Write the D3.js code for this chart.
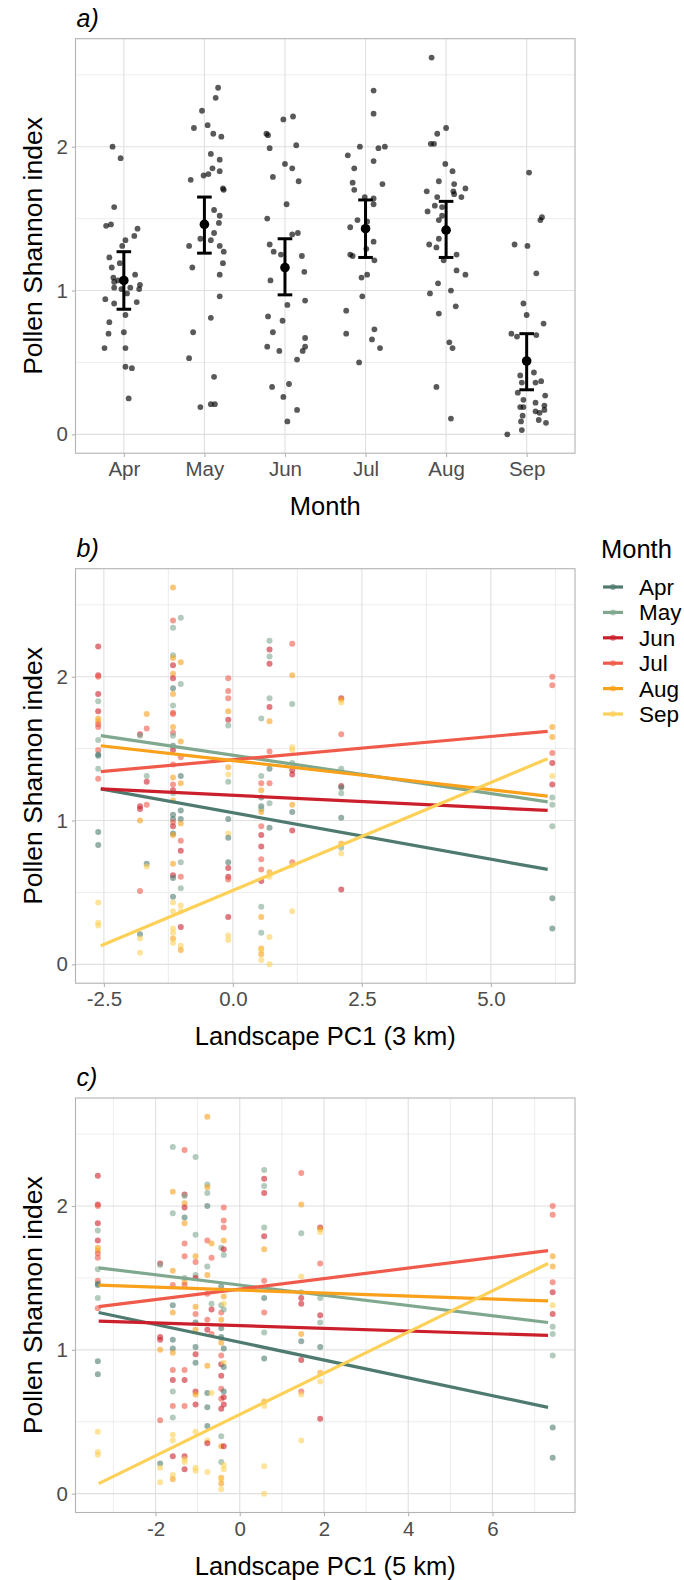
<!DOCTYPE html>
<meta charset="utf-8">
<style>
  body { margin: 0; background: #fff; }
  text { font-family: "Liberation Sans", Arial, sans-serif; }
</style>
<body>
<svg id="fig" width="684" height="1580"></svg>
<script src="https://d3js.org/d3.v7.min.js"></script>
<script>
// ---- data ----
const months = ['Apr', 'May', 'Jun', 'Jul', 'Aug', 'Sep'];
const monthCols = ['#4f7a6f', '#7fa88f', '#cc1f2c', '#f05a4a', '#f9a11b', '#fdd157'];

// panel a: [shannon, horizontal jitter in category steps]
const aprPts = [[2.00,-0.14],[1.92,-0.04],[1.58,-0.12],[1.45,-0.22],[1.46,-0.16],[1.43,0.17],[1.38,0.13],[1.35,0.02],[1.31,-0.02],[1.23,-0.18],[1.19,-0.05],[1.16,-0.15],[1.11,0.14],[1.09,-0.13],[1.06,-0.12],[1.07,-0.07],[1.02,-0.12],[1.04,0.20],[1.01,0.19],[1.02,0.08],[1.01,-0.03],[0.98,0.04],[0.94,-0.23],[0.91,-0.12],[0.92,0.16],[0.83,0.02],[0.78,-0.18],[0.70,-0.19],[0.71,0.00],[0.60,-0.24],[0.60,0.02],[0.47,0.02],[0.46,0.10],[0.25,0.06]];
const mayPts = [[2.41,0.17],[2.34,0.14],[2.25,-0.03],[2.13,-0.13],[2.15,0.04],[2.09,0.11],[2.07,0.21],[1.95,0.08],[1.91,0.19],[1.85,0.10],[1.81,0.05],[1.80,-0.01],[1.83,0.19],[1.77,-0.17],[1.71,0.23],[1.70,0.24],[1.56,0.12],[1.52,0.19],[1.47,0.18],[1.40,0.12],[1.36,-0.05],[1.35,0.08],[1.31,-0.19],[1.31,0.19],[1.27,0.24],[1.16,-0.15],[1.19,0.23],[1.11,0.19],[0.96,0.19],[0.81,0.08],[0.71,-0.14],[0.53,-0.19],[0.40,0.12],[0.19,-0.05],[0.21,0.08],[0.21,0.13]];
const junPts = [[2.09,-0.23],[2.08,-0.21],[2.19,-0.02],[2.21,0.10],[1.99,-0.19],[2.01,0.14],[1.88,0.00],[1.85,0.09],[1.79,-0.15],[1.76,0.17],[1.60,0.02],[1.50,-0.22],[1.39,0.09],[1.40,0.16],[1.32,-0.19],[1.27,-0.14],[1.25,-0.05],[1.24,0.21],[1.13,0.24],[1.07,-0.18],[0.90,0.03],[0.93,0.25],[0.82,-0.21],[0.79,-0.03],[0.71,-0.15],[0.67,0.25],[0.61,-0.22],[0.58,-0.07],[0.61,0.25],[0.58,0.22],[0.52,0.15],[0.33,-0.16],[0.35,0.05],[0.26,-0.02],[0.17,0.15],[0.09,0.03]];
const julPts = [[2.39,0.10],[2.23,0.10],[2.00,-0.07],[1.99,0.16],[2.00,0.24],[1.94,-0.22],[1.85,-0.14],[1.90,0.10],[1.75,-0.16],[1.74,0.21],[1.70,-0.14],[1.65,-0.01],[1.64,0.10],[1.60,0.10],[1.49,-0.10],[1.48,0.02],[1.44,-0.19],[1.34,0.10],[1.29,0.01],[1.25,-0.19],[1.24,-0.16],[1.21,0.11],[1.09,-0.05],[1.11,0.02],[0.96,-0.04],[0.86,-0.24],[0.70,-0.24],[0.73,0.11],[0.66,0.08],[0.60,0.18],[0.50,-0.08]];
const augPts = [[2.62,-0.18],[2.13,0.00],[2.09,-0.11],[2.02,-0.19],[2.02,-0.15],[1.88,-0.01],[1.83,0.08],[1.76,-0.09],[1.74,0.10],[1.69,0.09],[1.69,-0.24],[1.71,0.24],[1.65,0.19],[1.67,0.10],[1.65,-0.11],[1.58,-0.05],[1.59,-0.14],[1.55,-0.23],[1.49,-0.09],[1.52,-0.05],[1.36,-0.09],[1.32,-0.21],[1.30,-0.12],[1.21,-0.03],[1.25,0.13],[1.14,0.13],[1.11,0.24],[1.05,-0.10],[0.98,-0.20],[1.00,0.06],[0.89,0.12],[0.84,-0.09],[0.64,0.04],[0.60,0.08],[0.33,-0.12],[0.11,0.06]];
const sepPts = [[1.82,0.03],[1.51,0.19],[1.49,0.17],[1.32,-0.15],[1.31,0.01],[1.12,0.12],[0.91,-0.04],[0.83,0.00],[0.77,0.21],[0.70,-0.19],[0.68,-0.12],[0.69,0.12],[0.43,0.09],[0.41,-0.08],[0.36,-0.06],[0.36,0.11],[0.37,0.18],[0.29,-0.11],[0.24,-0.04],[0.27,0.23],[0.19,-0.08],[0.19,-0.04],[0.22,0.11],[0.20,0.22],[0.16,0.11],[0.15,0.16],[0.17,0.22],[0.13,-0.05],[0.10,0.15],[0.08,0.24],[0.09,-0.07],[0.03,-0.06],[0.00,-0.24]];
const monthPts = [aprPts, mayPts, junPts, julPts, augPts, sepPts];

const monthMean = [1.07, 1.46, 1.16, 1.43, 1.42, 0.51];
const monthLo   = [0.87, 1.26, 0.97, 1.23, 1.23, 0.31];
const monthHi   = [1.27, 1.65, 1.36, 1.63, 1.62, 0.70];

// panel b: sites by PC1 (3 km), each with [shannon, month index]
const pc3Sites = [-2.61, -1.80, -1.67, -1.16, -1.01, -0.09, 0.55, 0.71, 1.15, 2.10, 6.19];
const pc3Obs = [
  [[2.21,2],[2.01,2],[2.00,3],[1.88,2],[1.83,1],[1.76,2],[1.71,4],[1.69,4],[1.67,3],[1.65,3],[1.56,1],[1.49,3],[1.46,0],[1.45,0],[1.36,1],[1.29,3],[0.92,0],[0.83,0],[0.43,5],[0.29,5],[0.27,5]],
  [[1.60,2],[1.59,1],[1.10,2],[1.08,2],[1.00,4],[0.51,3],[0.21,0],[0.18,5],[0.08,5]],
  [[1.74,4],[1.64,3],[1.31,1],[1.27,2],[1.11,3],[0.70,0],[0.68,5]],
  [[2.62,4],[2.39,3],[2.34,1],[2.15,1],[2.13,4],[2.08,2],[2.02,4],[1.99,2],[1.92,0],[1.88,4],[1.80,1],[1.75,3],[1.74,3],[1.65,4],[1.61,3],[1.59,1],[1.52,0],[1.49,2],[1.39,3],[1.30,4],[1.25,3],[1.21,2],[1.19,1],[1.14,4],[1.04,0],[1.01,0],[0.99,3],[0.96,2],[0.91,0],[0.90,4],[0.70,4],[0.62,2],[0.60,0],[0.47,0],[0.43,5],[0.37,5],[0.25,5],[0.22,5],[0.18,4],[0.15,5]],
  [[2.41,1],[2.10,4],[1.95,1],[1.55,4],[1.44,3],[1.31,0],[1.26,4],[1.07,0],[1.01,0],[0.98,4],[0.86,3],[0.79,2],[0.71,1],[0.61,3],[0.53,1],[0.41,5],[0.37,5],[0.26,2],[0.13,5],[0.10,4]],
  [[1.99,3],[1.90,3],[1.85,3],[1.76,4],[1.70,2],[1.66,1],[1.37,4],[1.32,5],[1.27,1],[1.01,0],[0.91,5],[0.88,0],[0.71,0],[0.67,2],[0.61,2],[0.59,3],[0.33,2],[0.20,5],[0.17,5]],
  [[1.71,1],[1.31,1],[1.26,3],[1.21,4],[1.16,0],[1.10,0],[1.08,1],[1.06,4],[0.96,3],[0.90,2],[0.82,2],[0.73,3],[0.66,3],[0.58,2],[0.40,1],[0.33,4],[0.22,1],[0.11,4],[0.10,5],[0.07,4],[0.03,5]],
  [[2.25,1],[2.19,2],[2.14,1],[2.09,2],[1.85,1],[1.79,2],[1.69,4],[1.48,3],[1.36,0],[1.26,3],[1.12,1],[0.95,0],[0.64,4],[0.61,5],[0.19,5],[0.00,5]],
  [[2.23,3],[2.01,4],[1.81,1],[1.51,5],[1.49,5],[1.40,1],[1.35,2],[1.32,2],[1.11,4],[1.06,0],[0.93,2],[0.71,3],[0.69,5],[0.37,5]],
  [[1.85,2],[1.84,4],[1.82,5],[1.60,3],[1.36,1],[1.24,2],[1.23,0],[1.19,1],[1.02,0],[0.84,4],[0.81,1],[0.77,5],[0.52,2]],
  [[2.00,3],[1.94,3],[1.65,4],[1.58,4],[1.47,3],[1.40,2],[1.31,5],[1.25,2],[1.16,1],[1.11,1],[0.96,1],[0.46,0],[0.25,0]]
];
const pc3FitRange = [-2.56, 6.10];
const pc3Fit = [[1.22, 0.66], [1.59, 1.13], [1.22, 1.07], [1.34, 1.62], [1.52, 1.17], [0.13, 1.43]];

// panel c: sites by PC1 (5 km)
const pc5Sites = [-3.37, -1.89, -1.59, -1.31, -1.05, -0.77, -0.67, -0.44, -0.38, 0.58, 1.46, 1.91, 7.43];
const pc5Obs = [
  [[2.21,2],[2.01,2],[2.00,3],[1.88,2],[1.83,1],[1.76,2],[1.71,4],[1.69,4],[1.67,3],[1.64,3],[1.56,1],[1.48,3],[1.46,0],[1.45,0],[1.36,1],[1.29,3],[0.92,0],[0.83,0],[0.43,5],[0.29,5],[0.27,5]],
  [[1.60,2],[1.59,1],[1.09,2],[1.07,2],[1.00,4],[0.51,3],[0.21,0],[0.18,5],[0.08,5]],
  [[2.41,1],[2.10,4],[1.95,1],[1.55,4],[1.45,3],[1.31,0],[1.26,4],[1.07,0],[1.01,0],[0.98,4],[0.86,3],[0.79,2],[0.71,1],[0.61,3],[0.53,1],[0.41,5],[0.37,5],[0.26,2],[0.13,5],[0.10,4]],
  [[2.39,3],[2.08,2],[2.07,1],[2.02,4],[1.99,2],[1.92,0],[1.88,4],[1.74,3],[1.65,3],[1.50,1],[1.47,4],[1.45,3],[0.86,3],[0.79,2],[0.61,3],[0.26,2],[0.24,5],[0.22,5],[0.17,2]],
  [[2.34,1],[1.80,1],[1.65,4],[1.61,3],[1.52,1],[1.50,2],[1.30,4],[1.25,3],[1.19,0],[1.14,4],[1.02,0],[0.97,2],[0.91,0],[0.71,2],[0.69,4],[0.62,2],[0.43,5],[0.18,5],[0.16,5]],
  [[2.62,4],[2.15,1],[2.13,4],[2.09,1],[2.00,0],[1.76,3],[1.58,1],[1.52,4],[1.39,3],[1.21,3],[1.14,2],[0.89,4],[0.70,0],[0.60,0],[0.47,0],[0.37,5],[0.35,2],[0.15,5]],
  [[1.74,4],[1.64,3],[1.32,1],[1.28,2],[1.11,3],[0.70,5]],
  [[1.71,1],[1.44,0],[1.31,1],[1.26,3],[1.21,4],[1.15,0],[1.09,0],[1.08,1],[1.05,4],[0.96,3],[0.90,2],[0.82,2],[0.73,3],[0.66,3],[0.59,2],[0.40,1],[0.33,4],[0.22,1],[0.11,4],[0.10,5],[0.07,4],[0.03,5]],
  [[1.99,3],[1.90,3],[1.85,3],[1.76,4],[1.70,2],[1.66,1],[1.37,4],[1.32,5],[1.28,1],[1.01,0],[0.91,5],[0.88,0],[0.71,0],[0.67,2],[0.62,2],[0.33,2],[0.20,5],[0.17,5]],
  [[2.25,1],[2.19,2],[2.14,1],[2.09,2],[1.85,1],[1.79,2],[1.70,4],[1.48,3],[1.36,0],[1.26,3],[1.12,1],[0.94,0],[0.64,4],[0.61,5],[0.19,5],[0.00,5]],
  [[2.23,3],[2.01,4],[1.81,1],[1.51,5],[1.40,1],[1.36,2],[1.32,2],[1.11,4],[1.06,0],[0.93,2],[0.71,3],[0.69,5],[0.37,5]],
  [[1.85,2],[1.84,4],[1.82,5],[1.60,3],[1.36,1],[1.24,2],[1.19,1],[1.02,0],[0.84,4],[0.78,5],[0.52,2]],
  [[2.00,3],[1.94,3],[1.65,4],[1.58,4],[1.47,3],[1.40,2],[1.31,5],[1.25,2],[1.16,1],[1.11,1],[0.96,1],[0.46,0],[0.25,0]]
];
const pc5FitRange = [-3.35, 7.32];
const pc5Fit = [[1.26, 0.60], [1.57, 1.19], [1.20, 1.10], [1.30, 1.69], [1.45, 1.34], [0.07, 1.60]];

// ---- layout ----
const svg = d3.select('#fig');
const L = 75.5, R = 575, H = 414.5;
const tops = [38.7, 568.7, 1098];
const yDom = [-0.131, 2.751];
const grid = '#e0e0e0', border = '#b3b3b3', tickCol = '#4d4d4d';
const hy = s => String(s).replace('\u2212', '-');

function panel(top, label, xtitle) {
  const g = svg.append('g');
  const y = d3.scaleLinear().domain(yDom).range([top + H, top]);
  g.append('text').attr('x', L + 1).attr('y', top - 12)
    .attr('font-size', 25).attr('font-style', 'italic').text(label);
  g.append('text').attr('transform', `translate(42,${top + H / 2}) rotate(-90)`)
    .attr('text-anchor', 'middle').attr('font-size', 26.5).text('Pollen Shannon index');
  g.append('text').attr('x', (L + R) / 2).attr('y', top + H + 62)
    .attr('text-anchor', 'middle').attr('font-size', 25.5).text(xtitle);
  return {g, y};
}

function hGrid(g, y) {
  [0.5, 1.5, 2.5].forEach(v => g.append('line').attr('x1', L).attr('x2', R)
    .attr('y1', y(v)).attr('y2', y(v)).attr('stroke', grid).attr('stroke-width', 0.6));
  [0, 1, 2].forEach(v => g.append('line').attr('x1', L).attr('x2', R)
    .attr('y1', y(v)).attr('y2', y(v)).attr('stroke', grid).attr('stroke-width', 1.1));
}
function vGrid(g, x, top, vals, w) {
  vals.forEach(v => g.append('line').attr('x1', x(v)).attr('x2', x(v))
    .attr('y1', top).attr('y2', top + H).attr('stroke', grid).attr('stroke-width', w));
}
function axes(g, x, y, top, xAxis) {
  g.append('rect').attr('x', L).attr('y', top).attr('width', R - L).attr('height', H)
    .attr('fill', 'none').attr('stroke', border).attr('stroke-width', 1.1);
  const ay = g.append('g').attr('transform', `translate(${L},0)`)
    .call(d3.axisLeft(y).tickValues([0, 1, 2]).tickSize(3.7).tickPadding(4).tickFormat(d3.format('d')));
  const ax = g.append('g').attr('transform', `translate(0,${top + H})`)
    .call(xAxis.tickSize(3.7).tickPadding(5));
  [ax, ay].forEach(a => {
    a.select('.domain').remove();
    a.selectAll('line').attr('stroke', border).attr('stroke-width', 1.1);
    a.selectAll('text').attr('fill', tickCol).attr('font-size', 20.5)
      .attr('font-family', '"Liberation Sans", Arial, sans-serif');
  });
}

// ---- panel a ----
{
  const top = tops[0];
  const {g, y} = panel(top, 'a)', 'Month');
  const x = d3.scalePoint().domain(months).range([L, R]).padding(0.6);
  hGrid(g, y);
  vGrid(g, x, top, months, 1.1);
  months.forEach((m, i) => {
    g.append('g').selectAll('circle').data(monthPts[i]).join('circle')
      .attr('cx', d => x(m) + d[1] * x.step()).attr('cy', d => y(d[0]))
      .attr('r', 2.9).attr('fill', '#000').attr('fill-opacity', 0.65);
  });
  const cap = 7.3;
  months.forEach((m, i) => {
    const cx = x(m);
    g.append('line').attr('x1', cx).attr('x2', cx).attr('y1', y(monthLo[i])).attr('y2', y(monthHi[i]))
      .attr('stroke', '#000').attr('stroke-width', 3);
    [monthLo[i], monthHi[i]].forEach(v => g.append('line')
      .attr('x1', cx - cap).attr('x2', cx + cap).attr('y1', y(v)).attr('y2', y(v))
      .attr('stroke', '#000').attr('stroke-width', 3));
    g.append('circle').attr('cx', cx).attr('cy', y(monthMean[i])).attr('r', 4.8).attr('fill', '#000');
  });
  axes(g, x, y, top, d3.axisBottom(x));
}

// ---- panels b, c ----
function scatterPanel(top, label, xtitle, xDom, majors, minors, fmt, sites, obs, fitRange, fit) {
  const {g, y} = panel(top, label, xtitle);
  const x = d3.scaleLinear().domain(xDom).range([L, R]);
  hGrid(g, y);
  vGrid(g, x, top, minors, 0.6);
  vGrid(g, x, top, majors, 1.1);
  const pts = [];
  sites.forEach((s, i) => obs[i].forEach(o => pts.push({x: s, v: o[0], m: o[1]})));
  g.append('g').selectAll('circle').data(pts).join('circle')
    .attr('cx', d => x(d.x)).attr('cy', d => y(d.v)).attr('r', 3)
    .attr('fill', d => monthCols[d.m]).attr('fill-opacity', 0.6);
  fit.forEach((f, i) => g.append('line')
    .attr('x1', x(fitRange[0])).attr('x2', x(fitRange[1]))
    .attr('y1', y(f[0])).attr('y2', y(f[1]))
    .attr('stroke', monthCols[i]).attr('stroke-width', 3.2));
  axes(g, x, y, top, d3.axisBottom(x).tickValues(majors).tickFormat(d => hy(fmt(d))));
}

scatterPanel(tops[1], 'b)', 'Landscape PC1 (3 km)', [-3.05, 6.63],
  [-2.5, 0, 2.5, 5], [-1.25, 1.25, 3.75, 6.25], d3.format('.1f'),
  pc3Sites, pc3Obs, pc3FitRange, pc3Fit);
scatterPanel(tops[2], 'c)', 'Landscape PC1 (5 km)', [-3.90, 7.96],
  [-2, 0, 2, 4, 6], [-3, -1, 1, 3, 5, 7], d3.format('d'),
  pc5Sites, pc5Obs, pc5FitRange, pc5Fit);

// ---- legend ----
const lg = svg.append('g');
lg.append('text').attr('x', 601).attr('y', 558).attr('font-size', 25.5).text('Month');
const ly = d3.scalePoint().domain(months).range([587, 714]);
months.forEach((m, i) => {
  lg.append('line').attr('x1', 603).attr('x2', 623).attr('y1', ly(m)).attr('y2', ly(m))
    .attr('stroke', monthCols[i]).attr('stroke-width', 3.2);
  lg.append('circle').attr('cx', 613).attr('cy', ly(m)).attr('r', 3)
    .attr('fill', monthCols[i]).attr('fill-opacity', 0.6);
  lg.append('text').attr('x', 639).attr('y', ly(m) + 8).attr('font-size', 22.5).text(m);
});
</script>
</body>
